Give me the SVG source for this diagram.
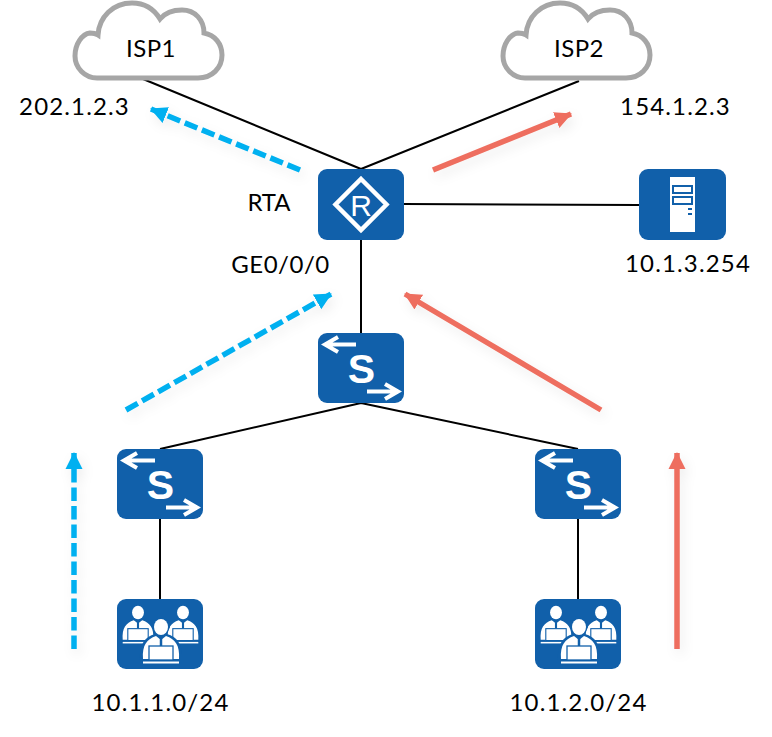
<svg xmlns="http://www.w3.org/2000/svg" width="772" height="737" viewBox="0 0 772 737">
<style>
text{font-family:"Lato","Open Sans","Liberation Sans",sans-serif;font-size:24px;fill:#000}
.lbl{text-anchor:middle}
.num{letter-spacing:1.150px}
.ic{fill:#1160aa}
.wl{fill:none;stroke:#fff;stroke-linecap:butt;stroke-linejoin:miter}
.cloud{fill:#fff;stroke:#a6a6a6;stroke-width:5}
.link{stroke:#000;stroke-width:2;fill:none}
.blue{stroke:#00b0f0;stroke-width:5.500;stroke-dasharray:13.500 5;fill:none}
.red{stroke:#ee6e5f;stroke-width:5.500;fill:none}
text.icl{font-family:"Liberation Sans",sans-serif;text-anchor:middle;fill:#fff}
</style>
<defs>
<filter id="sh" x="-30%" y="-30%" width="160%" height="160%"><feDropShadow dx="3" dy="5" stdDeviation="6" flood-color="#000" flood-opacity=".08"/></filter>
<marker id="ab" markerUnits="userSpaceOnUse" markerWidth="17" markerHeight="18" refX="16" refY="9" orient="auto"><path d="M0 0.500L17 9L0 17.500z" fill="#00b0f0"/></marker>
<marker id="ar" markerUnits="userSpaceOnUse" markerWidth="17" markerHeight="18" refX="16" refY="9" orient="auto"><path d="M0 0.500L17 9L0 17.500z" fill="#ee6e5f"/></marker>
<symbol id="cl" overflow="visible"><path class="cloud" d="M24 77H125C139 77 149 67 149 54C149 43 142 34 131 32C131 19 122 9 109 9C100 9 92 12 87 18C81 8 71 2 59 2C40 2 26 16 25 34C22 32 19 32 17 32C9 33 2 43 2 55C2 67 12 77 24 77Z"/></symbol>
<symbol id="sw" overflow="visible">
<rect width="86" height="70" rx="9" class="ic"/>
<path class="wl" stroke-width="4" d="M38 11.500H8M20 4L7 11.500L20 19M49 58.500H79M67 51L80 58.500L67 66"/>
<text class="icl" x="43.500" y="50" style="font-size:41px;font-weight:700;fill:#fff;font-family:'Liberation Sans',sans-serif">S</text>
</symbol>
<g id="person">
<ellipse cx="0" cy="0" rx="7" ry="8" fill="#fff"/>
<path d="M-18 32C-19 18 -14 12 -5 9L0 13L5 9C14 12 19 18 18 32Z" fill="#fff"/>
<path d="M0 10V19" stroke="#1160aa" stroke-width="2.500"/>
<rect x="-12" y="19" width="24" height="14" fill="#fff" stroke="#1160aa" stroke-width="1.300"/>
<path d="M-18 35.500H18" stroke="#fff" stroke-width="1.800"/>
</g>
<symbol id="us" overflow="visible">
<rect width="86" height="70" rx="9" class="ic"/>
<use href="#person" transform="translate(21 13.500) scale(.85)"/>
<use href="#person" transform="translate(66 13.500) scale(.85)"/>
<g transform="translate(44 28)"><path d="M-21 33C-22 17 -16 10 -6 7L-9 0C-9 -12 9 -12 9 0L6 7C16 10 22 17 21 33Z" fill="#1160aa"/></g>
<use href="#person" transform="translate(44 28)"/>
</symbol>
</defs>
<g id="connectors">
<path class="link" d="M143 79L361 169M579 81L361 169M404 204L639 205M361 240V333M361 403L160 449M361 403L578 449M160 519V599M578 519V599"/>
</g>
<g id="flows" filter="url(#sh)">
<path class="blue" d="M300 170L151 109" marker-end="url(#ab)"/>
<path class="red" d="M433 170L571 114" marker-end="url(#ar)"/>
<path class="blue" d="M126 410L331 294" marker-end="url(#ab)"/>
<path class="red" d="M601 410L405 294" marker-end="url(#ar)"/>
<path class="blue" d="M74 649V453" marker-end="url(#ab)"/>
<path class="red" d="M677 649V453" marker-end="url(#ar)"/>
</g>
<g id="isp1"><use href="#cl" x="73" y="1"/><text class="lbl" x="151" y="57" style="letter-spacing:.5px">ISP1</text></g>
<g id="isp2"><use href="#cl" x="501" y="1"/><text class="lbl" x="579" y="57" style="letter-spacing:.5px">ISP2</text></g>
<g id="rta"><rect x="318" y="169" width="86" height="71" rx="9" class="ic"/><path class="wl" stroke-width="4.500" d="M361 179L386.500 204.500L361 230L335.500 204.500Z"/><text class="icl" x="361" y="216" style="font-size:30px;fill:#fff;font-family:'Liberation Sans',sans-serif">R</text><text class="lbl" x="269" y="211">RTA</text><text class="lbl" x="280.500" y="273" style="letter-spacing:.5px">GE0/0/0</text></g>
<g id="server"><rect x="639" y="169" width="87" height="71" rx="9" class="ic"/><rect x="670" y="177" width="25" height="55" fill="#fff"/><g fill="#fff" stroke="#1160aa" stroke-width="2"><rect x="673" y="186" width="19" height="7"/><rect x="673" y="197" width="19" height="7"/></g><path d="M688 209H692M688 214H692" stroke="#1160aa" stroke-width="2"/><text class="lbl num" x="688" y="272">10.1.3.254</text></g>
<g id="sw-core"><use href="#sw" x="318" y="333"/></g>
<g id="sw-left"><use href="#sw" x="117" y="449"/></g>
<g id="sw-right"><use href="#sw" x="535" y="449"/></g>
<g id="users-left"><use href="#us" x="117" y="599"/><text class="lbl num" x="160.500" y="711">10.1.1.0/24</text></g>
<g id="users-right"><use href="#us" x="535" y="599"/><text class="lbl num" x="578.500" y="711">10.1.2.0/24</text></g>
<g id="ip1"><text class="lbl num" x="74.500" y="115">202.1.2.3</text></g>
<g id="ip2"><text class="lbl num" x="675.500" y="115">154.1.2.3</text></g>
</svg>
